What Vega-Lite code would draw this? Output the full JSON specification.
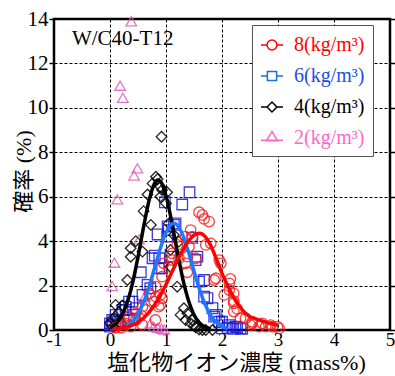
{
  "$schema": "https://vega.github.io/schema/vega-lite/v6.json",
  "width": 336,
  "height": 311,
  "autosize": {"type": "none"},
  "padding": {"left": 54, "top": 19, "right": 5, "bottom": 46},
  "datasets": {
    "pts": [
      {"s":"2","x":0.38,"y":13.9},{"s":"2","x":0.18,"y":11.0},{"s":"2","x":0.23,"y":10.45},{"s":"2","x":0.49,"y":7.28},{"s":"2","x":0.43,"y":6.95},{"s":"2","x":0.13,"y":5.88},{"s":"2","x":0.52,"y":4.08},{"s":"2","x":0.08,"y":3.03},{"s":"2","x":0.04,"y":1.98},{"s":"2","x":0.62,"y":1.5},{"s":"2","x":0.0,"y":0.25},{"s":"2","x":0.72,"y":0.3},{"s":"2","x":0.78,"y":0.15},{"s":"2","x":0.85,"y":0.1},{"s":"2","x":0.92,"y":0.05},{"s":"2","x":0.97,"y":0.02},
      {"s":"6","x":1.42,"y":6.2},{"s":"6","x":0.98,"y":5.75},{"s":"6","x":1.29,"y":5.65},{"s":"6","x":1.17,"y":4.8},{"s":"6","x":1.14,"y":4.73},{"s":"6","x":1.03,"y":4.66},{"s":"6","x":1.47,"y":4.15},{"s":"6","x":0.85,"y":4.3},{"s":"6","x":1.02,"y":4.2},{"s":"6","x":1.05,"y":4.5},{"s":"6","x":0.8,"y":3.35},{"s":"6","x":1.08,"y":3.3},{"s":"6","x":1.56,"y":3.3},{"s":"6","x":0.88,"y":3.23},{"s":"6","x":0.76,"y":3.23},{"s":"6","x":0.88,"y":2.78},{"s":"6","x":0.93,"y":2.78},{"s":"6","x":1.53,"y":3.15},{"s":"6","x":0.55,"y":2.6},{"s":"6","x":1.59,"y":2.18},{"s":"6","x":1.68,"y":2.25},{"s":"6","x":0.67,"y":2.03},{"s":"6","x":0.72,"y":1.88},{"s":"6","x":0.58,"y":1.58},{"s":"6","x":1.68,"y":1.5},{"s":"6","x":1.74,"y":1.43},{"s":"6","x":0.34,"y":1.28},{"s":"6","x":0.4,"y":1.28},{"s":"6","x":0.28,"y":1.05},{"s":"6","x":0.46,"y":0.98},{"s":"6","x":1.83,"y":0.98},{"s":"6","x":0.22,"y":0.9},{"s":"6","x":0.28,"y":0.9},{"s":"6","x":0.1,"y":0.68},{"s":"6","x":0.43,"y":0.68},{"s":"6","x":1.89,"y":0.68},{"s":"6","x":1.86,"y":0.6},{"s":"6","x":0.34,"y":0.45},{"s":"6","x":0.04,"y":0.45},{"s":"6","x":0.13,"y":0.37},{"s":"6","x":1.95,"y":0.37},{"s":"6","x":2.0,"y":0.37},{"s":"6","x":0.0,"y":0.3},{"s":"6","x":0.04,"y":0.22},{"s":"6","x":2.13,"y":0.22},{"s":"6","x":2.24,"y":0.15},{"s":"6","x":2.27,"y":0.12},{"s":"6","x":0.0,"y":0.15},{"s":"6","x":2.0,"y":0.07},{"s":"6","x":2.33,"y":0.07},{"s":"6","x":2.36,"y":0.05},{"s":"6","x":2.1,"y":0.1},{"s":"6","x":2.2,"y":0.05},
      {"s":"4","x":0.92,"y":8.7},{"s":"4","x":0.82,"y":6.9},{"s":"4","x":0.85,"y":6.8},{"s":"4","x":0.76,"y":6.6},{"s":"4","x":0.9,"y":6.45},{"s":"4","x":0.93,"y":6.3},{"s":"4","x":1.02,"y":6.2},{"s":"4","x":0.67,"y":6.1},{"s":"4","x":0.9,"y":6.0},{"s":"4","x":1.0,"y":5.7},{"s":"4","x":0.6,"y":5.35},{"s":"4","x":1.05,"y":4.8},{"s":"4","x":0.73,"y":4.73},{"s":"4","x":1.14,"y":4.28},{"s":"4","x":0.46,"y":4.0},{"s":"4","x":1.23,"y":3.98},{"s":"4","x":0.37,"y":3.68},{"s":"4","x":0.58,"y":3.53},{"s":"4","x":1.08,"y":3.6},{"s":"4","x":0.37,"y":3.3},{"s":"4","x":1.08,"y":2.85},{"s":"4","x":0.31,"y":2.25},{"s":"4","x":1.2,"y":1.95},{"s":"4","x":0.22,"y":1.1},{"s":"4","x":0.1,"y":1.13},{"s":"4","x":1.32,"y":0.98},{"s":"4","x":0.16,"y":0.8},{"s":"4","x":1.38,"y":0.75},{"s":"4","x":1.26,"y":0.68},{"s":"4","x":0.1,"y":0.6},{"s":"4","x":0.04,"y":0.5},{"s":"4","x":1.35,"y":0.45},{"s":"4","x":1.47,"y":0.45},{"s":"4","x":0.0,"y":0.3},{"s":"4","x":1.44,"y":0.3},{"s":"4","x":1.5,"y":0.2},{"s":"4","x":1.53,"y":0.12},{"s":"4","x":1.59,"y":0.02},{"s":"4","x":1.65,"y":0.0},{"s":"4","x":1.71,"y":0.0},{"s":"4","x":1.83,"y":0.0},{"s":"4","x":0.05,"y":0.15},{"s":"4","x":0.2,"y":0.3},
      {"s":"8","x":1.59,"y":5.3},{"s":"8","x":1.65,"y":5.18},{"s":"8","x":1.68,"y":5.0},{"s":"8","x":1.77,"y":4.88},{"s":"8","x":1.44,"y":4.5},{"s":"8","x":1.47,"y":4.2},{"s":"8","x":1.35,"y":4.2},{"s":"8","x":1.8,"y":3.9},{"s":"8","x":1.2,"y":3.83},{"s":"8","x":1.71,"y":3.83},{"s":"8","x":1.26,"y":3.75},{"s":"8","x":1.41,"y":3.75},{"s":"8","x":1.11,"y":3.45},{"s":"8","x":1.38,"y":3.3},{"s":"8","x":1.23,"y":3.23},{"s":"8","x":1.53,"y":3.23},{"s":"8","x":1.11,"y":3.15},{"s":"8","x":1.95,"y":3.15},{"s":"8","x":1.98,"y":3.0},{"s":"8","x":0.96,"y":3.0},{"s":"8","x":1.35,"y":3.0},{"s":"8","x":1.05,"y":2.85},{"s":"8","x":1.38,"y":2.6},{"s":"8","x":0.93,"y":2.4},{"s":"8","x":1.89,"y":2.33},{"s":"8","x":2.15,"y":2.3},{"s":"8","x":1.86,"y":2.25},{"s":"8","x":2.13,"y":2.1},{"s":"8","x":0.82,"y":1.95},{"s":"8","x":2.13,"y":1.8},{"s":"8","x":2.21,"y":1.65},{"s":"8","x":0.7,"y":1.65},{"s":"8","x":2.04,"y":1.58},{"s":"8","x":0.9,"y":1.58},{"s":"8","x":0.82,"y":1.5},{"s":"8","x":0.93,"y":1.43},{"s":"8","x":2.21,"y":1.3},{"s":"8","x":0.79,"y":1.28},{"s":"8","x":2.21,"y":1.2},{"s":"8","x":0.9,"y":1.13},{"s":"8","x":0.58,"y":1.05},{"s":"8","x":0.87,"y":1.05},{"s":"8","x":2.27,"y":0.95},{"s":"8","x":0.64,"y":0.9},{"s":"8","x":2.21,"y":0.83},{"s":"8","x":0.46,"y":0.75},{"s":"8","x":0.55,"y":0.68},{"s":"8","x":0.34,"y":0.6},{"s":"8","x":2.33,"y":0.53},{"s":"8","x":2.42,"y":0.53},{"s":"8","x":0.46,"y":0.45},{"s":"8","x":0.81,"y":0.45},{"s":"8","x":2.54,"y":0.37},{"s":"8","x":0.28,"y":0.3},{"s":"8","x":2.54,"y":0.3},{"s":"8","x":2.72,"y":0.3},{"s":"8","x":0.16,"y":0.22},{"s":"8","x":0.58,"y":0.22},{"s":"8","x":2.51,"y":0.22},{"s":"8","x":2.87,"y":0.22},{"s":"8","x":0.37,"y":0.15},{"s":"8","x":2.66,"y":0.15},{"s":"8","x":2.78,"y":0.15},{"s":"8","x":2.9,"y":0.15},{"s":"8","x":2.99,"y":0.15},{"s":"8","x":3.02,"y":0.07},{"s":"8","x":0.28,"y":0.22},{"s":"8","x":0.2,"y":0.1},{"s":"8","x":0.1,"y":0.1}
    ],
    "curves": [
      {"s":"4","x":0.0,"y":0.11},{"s":"4","x":0.1,"y":0.27},{"s":"4","x":0.2,"y":0.6},{"s":"4","x":0.3,"y":1.18},{"s":"4","x":0.4,"y":2.08},{"s":"4","x":0.5,"y":3.29},{"s":"4","x":0.6,"y":4.64},{"s":"4","x":0.7,"y":5.86},{"s":"4","x":0.8,"y":6.62},{"s":"4","x":0.85,"y":6.75},{"s":"4","x":0.9,"y":6.69},{"s":"4","x":1.0,"y":6.05},{"s":"4","x":1.1,"y":4.9},{"s":"4","x":1.2,"y":3.55},{"s":"4","x":1.3,"y":2.3},{"s":"4","x":1.4,"y":1.34},{"s":"4","x":1.5,"y":0.69},{"s":"4","x":1.6,"y":0.32},{"s":"4","x":1.7,"y":0.13},{"s":"4","x":1.8,"y":0.05},
      {"s":"6","x":0.3,"y":0.19},{"s":"6","x":0.4,"y":0.39},{"s":"6","x":0.5,"y":0.73},{"s":"6","x":0.6,"y":1.26},{"s":"6","x":0.7,"y":1.97},{"s":"6","x":0.8,"y":2.82},{"s":"6","x":0.9,"y":3.68},{"s":"6","x":1.0,"y":4.39},{"s":"6","x":1.1,"y":4.76},{"s":"6","x":1.15,"y":4.8},{"s":"6","x":1.2,"y":4.72},{"s":"6","x":1.3,"y":4.27},{"s":"6","x":1.4,"y":3.52},{"s":"6","x":1.5,"y":2.65},{"s":"6","x":1.6,"y":1.82},{"s":"6","x":1.7,"y":1.14},{"s":"6","x":1.8,"y":0.65},{"s":"6","x":1.9,"y":0.34},{"s":"6","x":2.0,"y":0.16},{"s":"6","x":2.1,"y":0.07},
      {"s":"8","x":0.05,"y":0.03},{"s":"8","x":0.1,"y":0.04},{"s":"8","x":0.2,"y":0.07},{"s":"8","x":0.3,"y":0.13},{"s":"8","x":0.4,"y":0.22},{"s":"8","x":0.5,"y":0.35},{"s":"8","x":0.6,"y":0.54},{"s":"8","x":0.7,"y":0.81},{"s":"8","x":0.8,"y":1.15},{"s":"8","x":0.9,"y":1.57},{"s":"8","x":1.0,"y":2.05},{"s":"8","x":1.1,"y":2.58},{"s":"8","x":1.2,"y":3.12},{"s":"8","x":1.3,"y":3.61},{"s":"8","x":1.4,"y":4.0},{"s":"8","x":1.5,"y":4.26},{"s":"8","x":1.6,"y":4.35},{"s":"8","x":1.7,"y":4.2},{"s":"8","x":1.8,"y":3.79},{"s":"8","x":1.9,"y":3.19},{"s":"8","x":2.0,"y":2.55},{"s":"8","x":2.1,"y":2.0},{"s":"8","x":2.2,"y":1.5},{"s":"8","x":2.3,"y":1.1},{"s":"8","x":2.4,"y":0.8},{"s":"8","x":2.5,"y":0.6},{"s":"8","x":2.6,"y":0.5},{"s":"8","x":2.7,"y":0.42},{"s":"8","x":2.8,"y":0.34},{"s":"8","x":2.9,"y":0.28},{"s":"8","x":3.0,"y":0.22}
    ],
    "label": [{"t":"W/C40-T12","x":-0.68,"y":13.1}]
  },
  "encoding": {
    "x": {"field":"x","type":"quantitative","scale":{"domain":[-1,5],"nice":false,"zero":false},
      "axis":{"values":[-1,0,1,2,3,4,5],"ticks":false,"labelPadding":0,"labelFont":"Liberation Serif","labelFontSize":19,"labelExpr":"'' + datum.value","labelFlush":false,"title":"塩化物イオン濃度 (mass%)","titleX":182,"titleY":39,"titleBaseline":"alphabetic","titleAlign":"center"}},
    "y": {"field":"y","type":"quantitative","scale":{"domain":[0,14],"nice":false},
      "axis":{"values":[0,2,4,6,8,10,12,14],"ticks":true,"tickSize":5,"tickWidth":1.5,"tickColor":"black","labelPadding":1,"labelFont":"Liberation Serif","labelFontSize":21,"labelFlush":false,"title":"確率 (%)","titleX":-31,"titleY":152,"titleAlign":"center","titleBaseline":"middle"}}
  },
  "layer": [
    {
      "data": {"name":"pts"},
      "mark": {"type":"point","filled":false,"strokeWidth":1.3},
      "encoding": {
        "color": {"field":"s","type":"nominal","scale":{"domain":["8","6","4","2"],"range":["#ff1a1a","#1a1ad8","#000000","#e060c0"]},"legend":null},
        "shape": {"field":"s","type":"nominal","scale":{"domain":["8","6","4","2"],"range":["circle","square","diamond","triangle-up"]},"legend":null},
        "size": {"field":"s","type":"nominal","scale":{"domain":["8","6","4","2"],"range":[110,112,88,128]},"legend":null},
        "opacity": {"value": 0.85}
      }
    },
    {
      "data": {"name":"curves"},
      "mark": {"type":"line","interpolate":"monotone","strokeWidth":3.5},
      "encoding": {
        "stroke": {"field":"s","type":"nominal","scale":{"domain":["4","6","8"],"range":["#000000","#1e78ff","#ff0000"]},"legend":null},
        "y": {"field":"y","type":"quantitative","scale":{"domain":[0,14],"nice":false},
          "axis":{"orient":"right","values":[0,2,4,6,8,10,12,14],"labels":false,"grid":false,"ticks":true,"tickSize":5,"tickWidth":1.5,"tickColor":"black","title":null}}
      }
    },
    {
      "data": {"name":"label"},
      "mark": {"type":"text","align":"left","baseline":"middle","font":"Liberation Serif","fontSize":21,"color":"black"},
      "encoding": {
        "text": {"field":"t"},
        "y": {"field":"y","type":"quantitative","scale":{"domain":[0,14],"nice":false},"axis":null}
      }
    },
    {
      "data": {"name":"pts"},
      "transform": [{"filter": "false"}],
      "mark": {"type":"point","filled":false,"strokeWidth":1.5},
      "encoding": {
        "y": {"field":"y","type":"quantitative","scale":{"domain":[0,14],"nice":false},"axis":null},
        "color": {"field":"s","type":"nominal","scale":{"domain":["8","6","4","2"],"range":["#ff0000","#1a6fe0","#000000","#ff66cc"]},
          "legend": {"orient":"none","legendX":198,"legendY":6,"title":null,"padding":8,"strokeColor":"#555555","fillColor":"white","labelFont":"Liberation Serif","labelFontSize":20,"labelOffset":10,"rowPadding":9,"symbolSize":484,"symbolStrokeWidth":1.5,"symbolOpacity":1,
            "symbolType": {"expr": "datum.value === '8' ? 'M-1,0H-0.45M0.45,0H1M-0.45,0A0.45,0.45,0,1,0,0.45,0A0.45,0.45,0,1,0,-0.45,0Z' : datum.value === '6' ? 'M-1,0H-0.42M0.42,0H1M-0.42,-0.42H0.42V0.42H-0.42Z' : datum.value === '4' ? 'M-1,0H-0.45M0.45,0H1M-0.45,0L0,-0.45L0.45,0L0,0.45Z' : 'M-1,0.2H1M0,-0.6L0.5,0.25H-0.5Z'"},
            "labelColor": {"expr": "datum.value === '8' ? '#ff0000' : datum.value === '6' ? '#2050e0' : datum.value === '4' ? '#000000' : '#ff66cc'"},
            "labelExpr":"datum.label + '(kg/m³)\u00a0'"}
        }
      }
    }
  ],
  "resolve": {"axis": {"y": "independent"}, "scale": {"color": "independent"}},
  "config": {
    "view": {"stroke": "black", "strokeWidth": 2.5},
    "axis": {"labelFont": "Liberation Serif", "labelFontSize": 20, "labelColor": "black", "titleFont": "Liberation Serif, Noto Sans CJK JP", "titleFontSize": 22, "titleFontWeight": "normal", "titleColor": "black", "domain": false, "grid": true, "gridColor": "black", "gridDash": [3,2], "gridWidth": 1, "gridOpacity": 1}
  }
}
